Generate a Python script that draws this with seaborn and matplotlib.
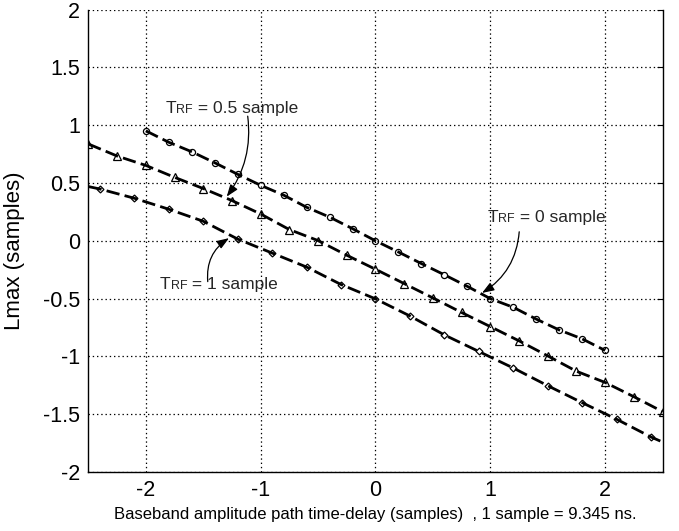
import matplotlib
matplotlib.use("Agg")
import matplotlib.pyplot as plt
import numpy as np
import pandas as pd
import seaborn as sns

# Path delay (samples) and measured Lmax (samples) for three RF delays
delay_trf0 = [-2.0, -1.8, -1.6, -1.4, -1.2, -1.0, -0.8, -0.6, -0.4, -0.2, 0.0,
              0.2, 0.4, 0.6, 0.8, 1.0, 1.2, 1.4, 1.6, 1.8, 2.0]
lmax_trf0 = [0.951, 0.852, 0.770, 0.675, 0.575, 0.480, 0.395, 0.290, 0.205, 0.105, 0.000,
             -0.097, -0.197, -0.294, -0.394, -0.500, -0.575, -0.677, -0.771, -0.848, -0.948]

delay_trf05 = [-2.5, -2.25, -2.0, -1.75, -1.5, -1.25, -1.0, -0.75, -0.5, -0.25, 0.0,
               0.25, 0.5, 0.75, 1.0, 1.25, 1.5, 1.75, 2.0, 2.25, 2.5]
lmax_trf05 = [0.837, 0.733, 0.652, 0.549, 0.452, 0.348, 0.232, 0.097, 0.002, -0.125, -0.246,
              -0.370, -0.494, -0.620, -0.742, -0.865, -0.995, -1.128, -1.225, -1.348, -1.477]

# first and last entries are the curve ends (no marker drawn there)
delay_trf1 = [-2.5, -2.4, -2.1, -1.8, -1.5, -1.2, -0.9, -0.6, -0.3, 0.0,
              0.3, 0.6, 0.9, 1.2, 1.5, 1.8, 2.1, 2.4, 2.5]
lmax_trf1 = [0.469, 0.448, 0.368, 0.273, 0.169, 0.015, -0.106, -0.227, -0.378, -0.502,
             -0.650, -0.814, -0.957, -1.100, -1.253, -1.400, -1.543, -1.697, -1.740]

x_ticks = [-2, -1, 0, 1, 2]
y_ticks = [-2, -1.5, -1, -0.5, 0, 0.5, 1, 1.5, 2]
y_tick_labels = ["-2", "-1.5", "-1", "-0.5", "0", "0.5", "1", "1.5", "2"]

sns.set_style("white")
plt.rcParams["font.family"] = ["Liberation Sans", "DejaVu Sans"]

fig = plt.figure(figsize=(6.79, 5.31), dpi=100)
ax = fig.add_axes([0.1303, 0.111, 0.8454, 0.871])

dash = (0, (4.8, 1.9))
common = dict(color="black", lw=2.0, linestyle=dash, markerfacecolor="none",
              markeredgecolor="black", markeredgewidth=0.9, ax=ax, legend=False)

sns.lineplot(x=delay_trf0, y=lmax_trf0, marker="o", markersize=4.4, **common)
sns.lineplot(x=delay_trf05, y=lmax_trf05, marker="^", markersize=5.2, **common)
sns.lineplot(x=delay_trf1, y=lmax_trf1, marker="D", markersize=3.5,
             markevery=list(range(1, len(delay_trf1) - 1)), **common)

ax.set_xlim(-2.5, 2.5)
ax.set_ylim(-2, 2)
ax.set_xticks(x_ticks)
ax.set_xticklabels([str(t) for t in x_ticks])
ax.set_yticks(y_ticks)
ax.set_yticklabels(y_tick_labels)

ax.grid(True, color="black", linestyle=(0, (1.1, 2.3)), linewidth=0.9)
ax.set_axisbelow(True)

for side in ["left", "bottom", "right"]:
    ax.spines[side].set_visible(True)
    ax.spines[side].set_color("black")
    ax.spines[side].set_linewidth(1.0)
ax.spines["top"].set_visible(False)

ax.tick_params(axis="both", direction="in", length=4, width=0.8, color="black",
               labelsize=15.5, labelcolor="black", pad=6)
ax.tick_params(axis="y", right=True, labelright=False)

ax.set_xlabel("Baseband amplitude path time-delay (samples)  , 1 sample = 9.345 ns.",
              fontsize=12, color="black")
ax.xaxis.set_label_coords(0.5, -0.075)
ax.set_ylabel("Lmax (samples)", fontsize=16, color="black")
ax.yaxis.set_label_coords(-0.111, 0.478)


def trf_label(x, y, value):
    """Write 'T_RF = value sample' with a reduced-size RF on the baseline."""
    t1 = ax.text(x, y, "T", fontsize=12.5, va="bottom", ha="left")
    t2 = ax.annotate("RF", xy=(1, 0), xycoords=t1, fontsize=9, va="bottom", ha="left")
    ax.annotate(f" = {value} sample", xy=(1, 0), xycoords=t2, fontsize=12.5,
                va="bottom", ha="left")


arrow = dict(arrowstyle="-|>,head_length=0.6,head_width=0.22", color="black",
             lw=0.9, shrinkA=0, shrinkB=0, mutation_scale=12)

trf_label(-1.826, 1.078, "0.5")
ax.annotate("", xy=(-1.296, 0.382), xytext=(-1.113, 1.078),
            arrowprops=dict(connectionstyle="arc3,rad=-0.2", **arrow))

trf_label(0.974, 0.134, "0")
ax.annotate("", xy=(0.928, -0.451), xytext=(1.252, 0.078),
            arrowprops=dict(connectionstyle="arc3,rad=-0.25", **arrow))

trf_label(-1.878, -0.444, "1")
ax.annotate("", xy=(-1.276, 0.023), xytext=(-1.461, -0.353),
            arrowprops=dict(connectionstyle="arc3,rad=-0.3", **arrow))

fig.savefig("out.png", dpi=100, facecolor="white")
